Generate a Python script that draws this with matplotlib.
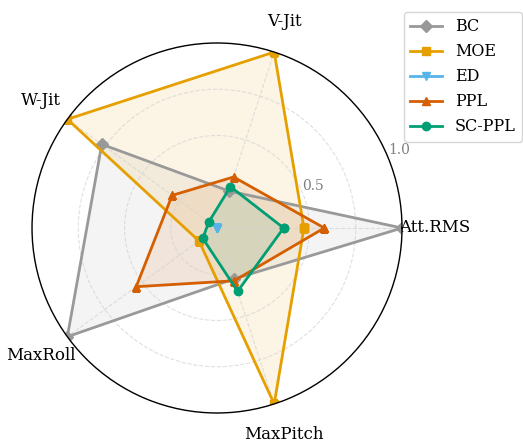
import numpy as np
import matplotlib
matplotlib.use('Agg')
import matplotlib.pyplot as plt

plt.rcParams['font.family'] = 'DejaVu Serif'

# Axes and normalised scores
categories = ['Att.RMS', 'V-Jit', 'W-Jit', 'MaxRoll', 'MaxPitch']
bc = [1.0, 0.21, 0.77, 1.0, 0.29]
moe = [0.47, 1.0, 1.0, 0.12, 1.0]
ed = [0.0, 0.0, 0.0, 0.0, 0.0]
ppl = [0.58, 0.29, 0.30, 0.54, 0.30]
scppl = [0.36, 0.235, 0.055, 0.095, 0.36]

series = [
    ('BC', bc, '#999999', 'D'),
    ('MOE', moe, '#E69F00', 's'),
    ('ED', ed, '#56B4E9', 'v'),
    ('PPL', ppl, '#D55E00', '^'),
    ('SC-PPL', scppl, '#009E73', 'o'),
]

angles = np.linspace(0, 2 * np.pi, len(categories), endpoint=False)
angles_closed = np.concatenate([angles, angles[:1]])

fig = plt.figure(figsize=(5.23, 4.41), dpi=100)
ax = fig.add_axes([0.0612, 0.0635, 0.7075, 0.839], polar=True)

for name, vals, color, marker in series:
    v = np.concatenate([vals, vals[:1]])
    ax.plot(angles_closed, v, color=color, marker=marker, linewidth=2,
            markersize=6, label=name)
    ax.fill(angles_closed, v, color=color, alpha=0.1)

ax.set_ylim(0, 1.0)
ax.set_yticks([0.25, 0.5, 0.75, 1.0])
ax.set_yticklabels(['', '0.5', '', '1.0'], color='gray', fontsize=10)
ax.set_rlabel_position(22.5)

ax.set_xticks(angles)
ax.set_xticklabels(categories, fontsize=12)
ax.tick_params(axis='x', pad=13)

ax.grid(True, linestyle='--', color='lightgray', linewidth=0.8, alpha=0.7)
ax.spines['polar'].set_color('black')
ax.spines['polar'].set_linewidth(1.0)

fig.legend(loc='upper right', bbox_to_anchor=(1.0134, 0.991), fontsize=11.5)

plt.savefig('out.png', dpi=100)
